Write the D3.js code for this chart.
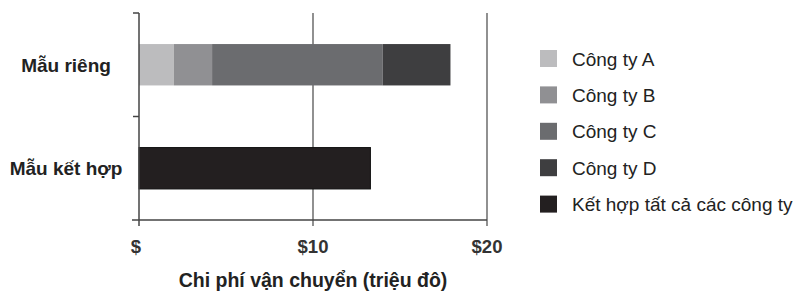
<!DOCTYPE html>
<meta charset="utf-8">
<style>
  body { margin: 0; background: #fff; }
  svg text { font-family: "Liberation Sans", Arial, sans-serif; fill: #222; }
</style>
<svg width="801" height="292"></svg>
<script src="https://d3js.org/d3.v7.min.js"></script>
<script>

  var categories = ["Mẫu riêng", "Mẫu kết hợp"],
      companies = ["Công ty A", "Công ty B", "Công ty C", "Công ty D"],
      separateCosts = [2.0, 2.2, 9.8, 3.9],
      combinedCost = 13.3,
      legendLabels = ["Công ty A", "Công ty B", "Công ty C", "Công ty D", "Kết hợp tất cả các công ty"],
      colors = ["#bcbcbe", "#909093", "#6b6c6f", "#3e3e40", "#231f20"],
      xTicks = [0, 10, 20],
      xTickLabels = ["$", "$10", "$20"];

  var svg = d3.select("svg");

  var x = d3.scaleLinear().domain([0, 20]).range([139, 487]);
  var y = d3.scaleBand().domain(categories).range([13, 220])
      .paddingInner(0.6).paddingOuter(0.3);

  // stacked segments for the separate row
  var acc = 0;
  var segs = separateCosts.map(function(v, i) {
    var s = {x0: acc, x1: acc + v, color: colors[i]};
    acc += v;
    return s;
  });

  // gridlines
  svg.append("g").selectAll("line").data(xTicks.slice(1)).enter().append("line")
      .attr("x1", d => x(d)).attr("x2", d => x(d))
      .attr("y1", 13).attr("y2", 226)
      .attr("stroke", "#555").attr("stroke-width", 1.3);

  svg.append("g").selectAll("rect").data(segs).enter().append("rect")
      .attr("x", d => x(d.x0))
      .attr("width", d => x(d.x1) - x(d.x0))
      .attr("y", y(categories[0]))
      .attr("height", y.bandwidth())
      .attr("fill", d => d.color);

  svg.append("rect")
      .attr("x", x(0))
      .attr("width", x(combinedCost) - x(0))
      .attr("y", y(categories[1]))
      .attr("height", y.bandwidth())
      .attr("fill", colors[4])
      .attr("stroke", "#111").attr("stroke-width", 1);

  // axes
  var axis = svg.append("g").attr("stroke", "#444").attr("stroke-width", 1.5);
  axis.append("line").attr("x1", x(0)).attr("x2", x(0)).attr("y1", 13).attr("y2", 226);
  axis.append("line").attr("x1", 132).attr("x2", x(20)).attr("y1", 220).attr("y2", 220);
  var yBounds = [13, y(categories[1]) - y.step() * 0.3, 220];
  axis.selectAll(".yt").data(yBounds.slice(0, 2)).enter().append("line")
      .attr("x1", 133).attr("x2", x(0)).attr("y1", d => d).attr("y2", d => d);

  svg.append("g").selectAll("text").data(xTicks).enter().append("text")
      .attr("x", (d, i) => x(d) + (i === 0 ? -3 : 0))
      .attr("y", 253)
      .attr("text-anchor", "middle")
      .attr("font-size", 18.5).attr("font-weight", "bold").style("fill", "#333")
      .text((d, i) => xTickLabels[i]);

  svg.append("text")
      .attr("x", x(10)).attr("y", 287)
      .attr("text-anchor", "middle")
      .attr("font-size", 19.5).attr("font-weight", "bold")
      .text("Chi phí vận chuyển (triệu đô)");

  svg.append("g").selectAll("text").data(categories).enter().append("text")
      .attr("x", 66)
      .attr("y", d => y(d) + y.bandwidth() / 2 + 7)
      .attr("text-anchor", "middle")
      .attr("font-size", 19).attr("font-weight", "bold")
      .text(d => d);

  // legend
  var leg = svg.append("g").selectAll("g").data(legendLabels).enter().append("g")
      .attr("transform", (d, i) => "translate(540," + (58.5 + i * 36.4) + ")");
  leg.append("rect").attr("x", 0).attr("y", -8.5).attr("width", 17).attr("height", 17)
      .attr("fill", (d, i) => colors[i]);
  leg.append("text").attr("x", 32).attr("y", 7)
      .attr("font-size", 19)
      .text(d => d);

</script>
